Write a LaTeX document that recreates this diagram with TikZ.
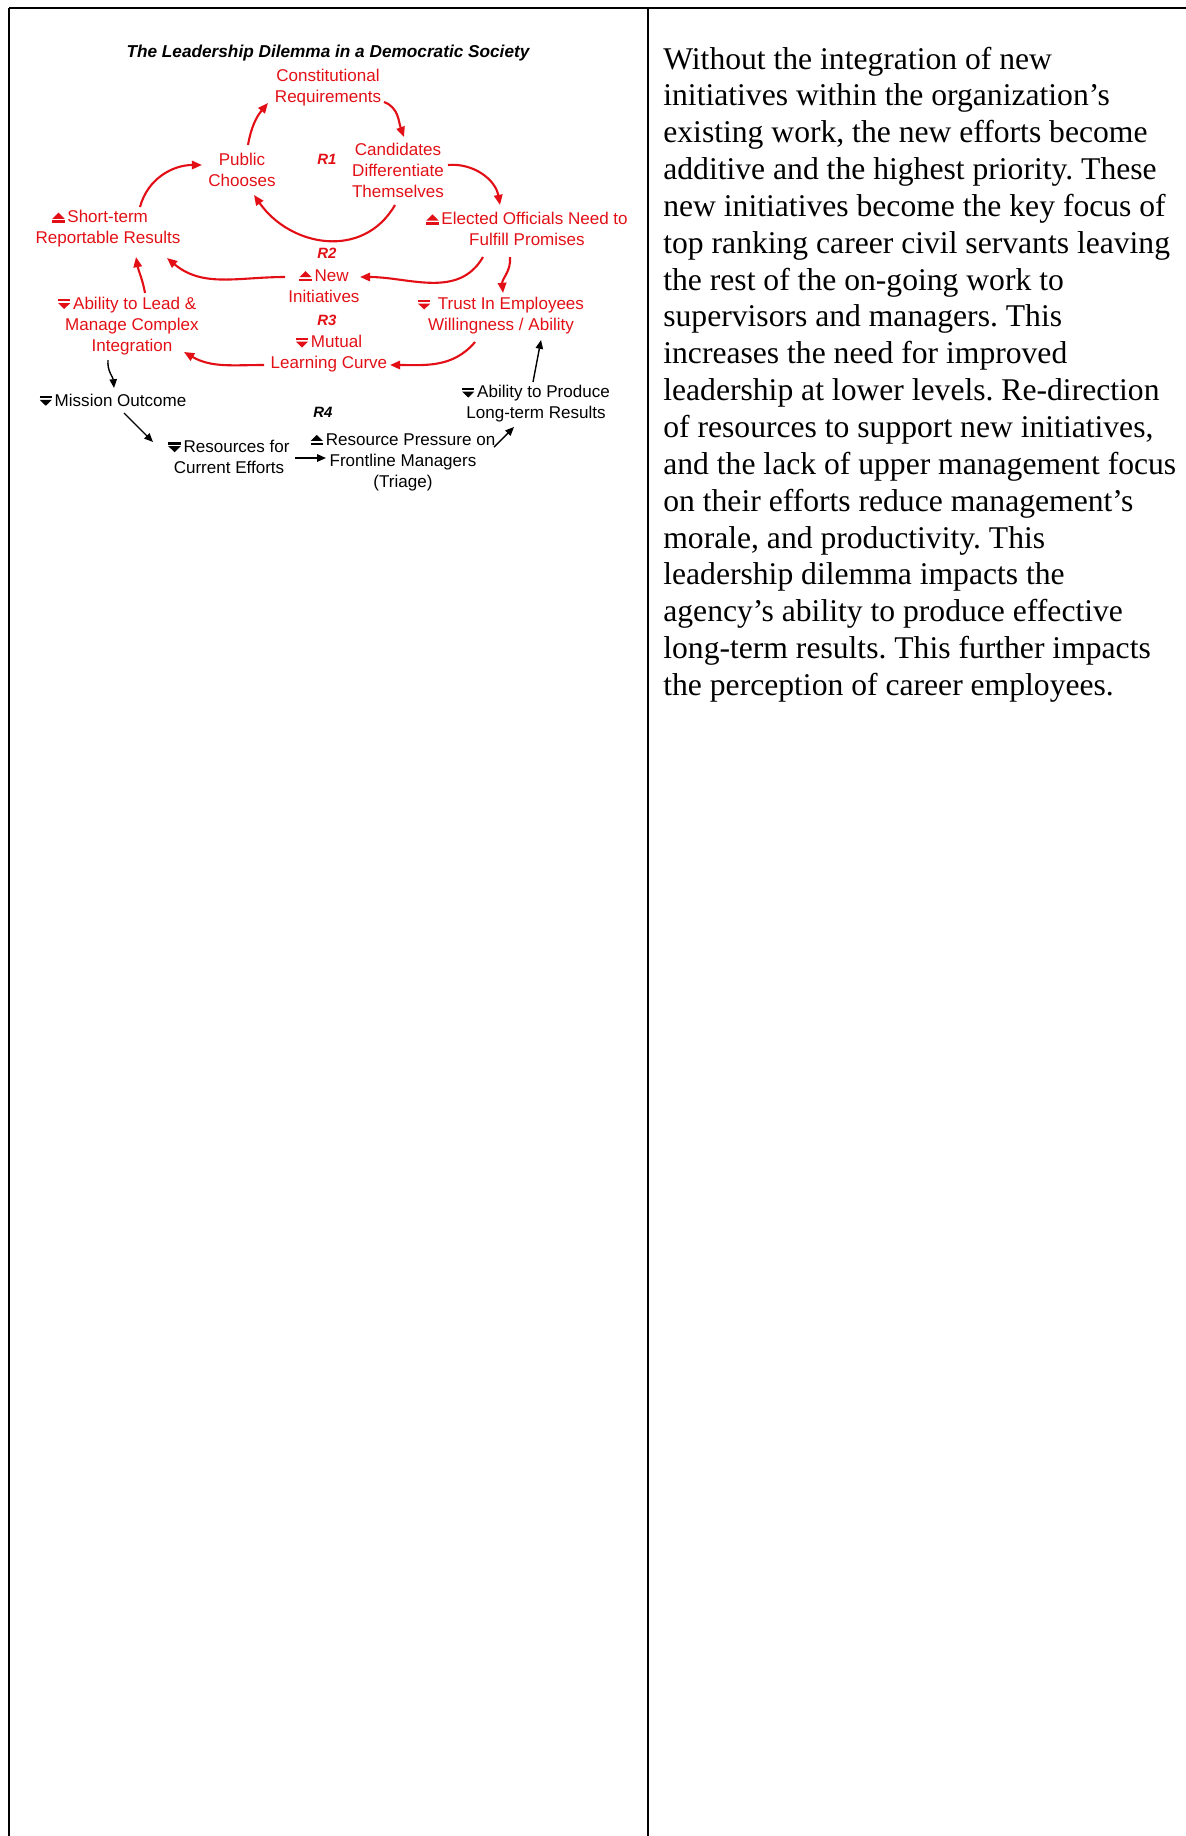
\documentclass[tikz,border=0pt]{standalone}
\usepackage{fontspec}
\setmainfont{Liberation Serif}
\newfontfamily\arialf{Liberation Sans}
\usetikzlibrary{arrows.meta}
\definecolor{cred}{RGB}{226,16,22}
\newcommand{\upsym}[1]{\tikz[baseline=0pt]{\fill[#1] (0pt,0pt) rectangle (7pt,1.4pt); \fill[#1] (0pt,2.3pt) -- (7pt,2.3pt) -- (3.5pt,5.8pt) -- cycle;}\hspace{1.6pt}}
\newcommand{\dnsym}[1]{\tikz[baseline=0pt]{\fill[#1] (0pt,4.5pt) rectangle (7pt,5.9pt); \fill[#1] (0pt,3.6pt) -- (7pt,3.6pt) -- (3.5pt,0.2pt) -- cycle;}\hspace{1.6pt}}
\frenchspacing
\begin{document}
\begin{tikzpicture}[x=0.02cm,y=0.02cm,
  lab/.style={font=\arialf\fontsize{9.7}{12}\selectfont, align=center, inner sep=0pt, text=cred},
  blab/.style={lab, text=black},
  rlab/.style={font=\arialf\bfseries\itshape\fontsize{8.5}{10}\selectfont, inner sep=0pt, text=cred},
  rarr/.style={draw=cred, line width=1.2pt, -{Triangle[length=5.8pt,width=4.8pt]}},
  barr/.style={draw=black, line width=0.8pt, -{Triangle[length=5pt,width=4.2pt]}},
  body/.style={font=\fontsize{18}{20.8}\selectfont, anchor=base west, inner sep=0pt},
  rule/.style={line width=1.1pt}]
\useasboundingbox (0,0) rectangle (1186,-1836);
% table
\draw[rule] (9,-8) coordinate (tl) -- (1186,-8) coordinate (tr);
\draw[rule] (tl) -- (9,-1836) coordinate (bl);
\draw[rule] (648,-8) coordinate (tm) -- (648,-1836) coordinate (bm);
% title
\node[font=\arialf\bfseries\itshape\fontsize{9.8}{12}\selectfont, inner sep=0pt] (title) at (328,-53) {The Leadership Dilemma in a Democratic Society};
% nodes
\node[lab] (con) at (328,-88) {Constitutional\\Requirements};
\node[lab] (pub) at (242,-170) {Public\\Chooses};
\node[rlab] (r1) at (327,-159) {R1};
\node[lab] (cand) at (398,-170) {Candidates\\Differentiate\\Themselves};
\node[lab] (short) at (108,-229) {\upsym{cred}Short-term\hspace*{9pt}\\Reportable Results};
\node[lab] (elect) at (527,-229) {\upsym{cred}Elected Officials Need to\\Fulfill Promises};
\node[rlab] (r2) at (327,-253) {R2};
\node[lab] (new) at (324,-286) {\upsym{cred}New\\Initiatives};
\node[lab] (lead) at (132,-326) {\dnsym{cred}Ability to Lead \&\hspace*{5.5pt}\\Manage Complex\\Integration};
\node[lab] (trust) at (501,-316) {\dnsym{cred} Trust In Employees\\Willingness / Ability};
\node[rlab] (r3) at (327,-320) {R3};
\node[lab] (mutual) at (329,-354) {\dnsym{cred}Mutual\\Learning Curve};
\node[blab] (mission) at (113,-400) {\dnsym{black}Mission Outcome};
\node[blab] (produce) at (536,-404) {\dnsym{black}Ability to Produce\\Long-term Results};
\node[rlab, text=black] (r4) at (323,-412) {R4};
\node[blab] (res) at (229,-457) {\dnsym{black}Resources for\\Current Efforts};
\node[blab] (press) at (403,-462) {\upsym{black}Resource Pressure on\\Frontline Managers\\(Triage)};
% red connectors
\draw[rarr] ([shift={(6,25)}]pub.center) to[out=80,in=-130] ([shift={(-60,-15)}]con.center);
\draw[rarr] ([shift={(56,-14)}]con.center) to[out=-20,in=110] ([shift={(6,33)}]cand.center);
\draw[rarr] ([shift={(50,5)}]cand.center) to[out=5,in=100] ([shift={(-27,24)}]elect.center);
\draw[rarr] ([shift={(-3,-35)}]cand.center) to[out=-120,in=-55,looseness=1.15] ([shift={(12,-25)}]pub.center);
\draw[rarr] ([shift={(32,22)}]short.center) to[out=75,in=180] ([shift={(-40,5)}]pub.center);
\draw[rarr] ([shift={(-44,-28)}]elect.center) to[out=-120,in=0] ([shift={(36,9)}]new.center);
\draw[rarr] ([shift={(-39,9)}]new.center) to[out=180,in=-40] ([shift={(59,-29)}]short.center);
\draw[rarr] ([shift={(13,33)}]lead.center) to[out=100,in=-80] ([shift={(28,-28)}]short.center);
\draw[rarr] ([shift={(-17,-28)}]elect.center) to[out=-85,in=95] ([shift={(2,23)}]trust.center);
\draw[rarr] ([shift={(-26,-26)}]trust.center) to[out=-130,in=0] ([shift={(61,-11)}]mutual.center);
\draw[rarr] ([shift={(-65,-11)}]mutual.center) to[out=180,in=-30] ([shift={(52,-26)}]lead.center);
% black connectors
\draw[barr] ([shift={(-24,-34)}]lead.center) to[out=-95,in=95] ([shift={(1,12)}]mission.center);
\draw[barr] ([shift={(11,-13)}]mission.center) -- ([shift={(-76,15)}]res.center);
\draw[barr] ([shift={(66,-1)}]res.center) -- ([shift={(-77,4)}]press.center);
\draw[barr] ([shift={(91,15)}]press.center) -- ([shift={(-22,-23)}]produce.center);
\draw[barr] ([shift={(-3,22)}]produce.center) -- ([shift={(40,-24)}]trust.center);
% body text
\foreach \i/\t in {0/{Without the integration of new},
 1/{initiatives within the organization’s},
 2/{existing work, the new efforts become},
 3/{additive and the highest priority. These},
 4/{new initiatives become the key focus of},
 5/{top ranking career civil servants leaving},
 6/{the rest of the on-going work to},
 7/{supervisors and managers. This},
 8/{increases the need for improved},
 9/{leadership at lower levels. Re-direction},
 10/{of resources to support new initiatives,},
 11/{and the lack of upper management focus},
 12/{on their efforts reduce management’s},
 13/{morale, and productivity. This},
 14/{leadership dilemma impacts the},
 15/{agency’s ability to produce effective},
 16/{long-term results. This further impacts},
 17/{the perception of career employees.}}
 \node[body] (line\i) at (663,{-69-36.85*\i}) {\t};
\end{tikzpicture}
\end{document}
